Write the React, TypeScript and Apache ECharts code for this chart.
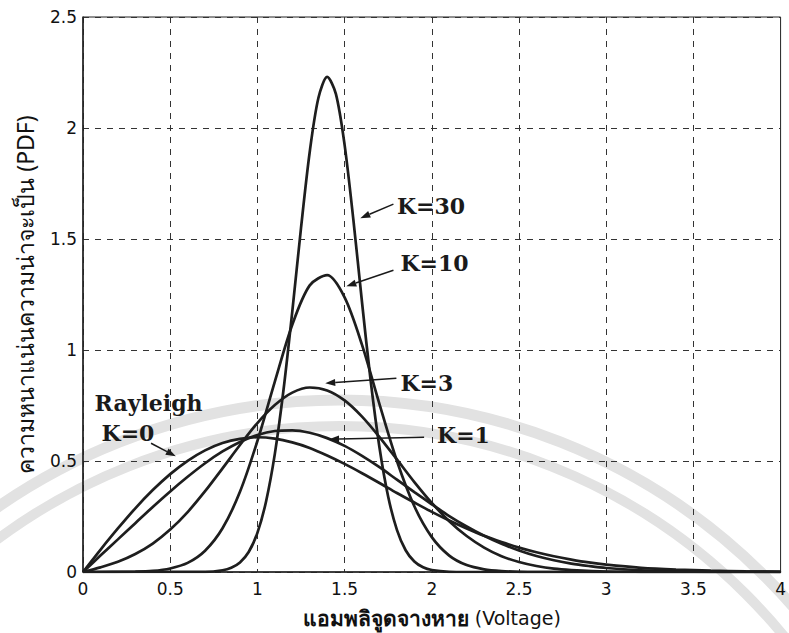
import React, { useEffect, useRef } from "react";
import * as echarts from "echarts";

// ---- data ----
const xK0 = [0, 0.1, 0.2, 0.3, 0.4, 0.5, 0.6, 0.7, 0.8, 0.9, 1.0, 1.1, 1.2, 1.3, 1.4, 1.5, 1.6, 1.7, 1.8, 1.9, 2.0, 2.1, 2.2, 2.3, 2.4, 2.5, 2.6, 2.7, 2.8, 2.9, 3.0, 3.2, 3.4, 3.6, 3.8, 4.0];
const yK0 = [0, 0.1, 0.196, 0.287, 0.369, 0.441, 0.501, 0.548, 0.581, 0.6, 0.607, 0.601, 0.584, 0.559, 0.525, 0.487, 0.445, 0.401, 0.356, 0.313, 0.271, 0.232, 0.196, 0.163, 0.135, 0.11, 0.089, 0.071, 0.056, 0.043, 0.033, 0.019, 0.011, 0.006, 0.003, 0.001];

const xK1 = [0, 0.1, 0.2, 0.3, 0.4, 0.5, 0.6, 0.7, 0.8, 0.9, 1.0, 1.1, 1.2, 1.3, 1.4, 1.5, 1.6, 1.7, 1.8, 1.9, 2.0, 2.1, 2.2, 2.3, 2.4, 2.5, 2.6, 2.7, 2.8, 2.9, 3.0, 3.2, 3.4, 3.6, 4.0];
const yK1 = [0, 0.074, 0.147, 0.22, 0.293, 0.363, 0.429, 0.49, 0.543, 0.586, 0.617, 0.635, 0.638, 0.627, 0.603, 0.568, 0.523, 0.472, 0.416, 0.36, 0.305, 0.252, 0.205, 0.163, 0.127, 0.097, 0.072, 0.053, 0.038, 0.027, 0.018, 0.008, 0.003, 0.001, 0];

const xK3 = [0, 0.1, 0.2, 0.3, 0.4, 0.5, 0.6, 0.7, 0.8, 0.9, 1.0, 1.1, 1.2, 1.3, 1.4, 1.5, 1.6, 1.7, 1.8, 1.9, 2.0, 2.1, 2.2, 2.3, 2.4, 2.5, 2.6, 2.7, 2.8, 3.0, 3.2, 4.0];
const yK3 = [0, 0.021, 0.046, 0.081, 0.128, 0.191, 0.27, 0.364, 0.467, 0.572, 0.671, 0.752, 0.808, 0.831, 0.818, 0.773, 0.7, 0.608, 0.507, 0.405, 0.311, 0.229, 0.162, 0.11, 0.071, 0.045, 0.027, 0.015, 0.009, 0.002, 0.001, 0];

const xK10 = [0, 0.3, 0.4, 0.5, 0.6, 0.7, 0.8, 0.9, 1.0, 1.1, 1.2, 1.3, 1.4, 1.5, 1.6, 1.7, 1.8, 1.9, 2.0, 2.1, 2.2, 2.3, 2.4, 2.5, 2.6, 3.0, 4.0];
const yK10 = [0, 0.002, 0.005, 0.016, 0.041, 0.096, 0.197, 0.361, 0.59, 0.858, 1.114, 1.291, 1.337, 1.237, 1.023, 0.756, 0.5, 0.296, 0.157, 0.074, 0.031, 0.012, 0.004, 0.001, 0, 0, 0];

const xK30 = [0, 0.7, 0.8, 0.85, 0.9, 0.95, 1.0, 1.05, 1.1, 1.15, 1.2, 1.25, 1.3, 1.35, 1.4, 1.45, 1.5, 1.55, 1.6, 1.65, 1.7, 1.75, 1.8, 1.85, 1.9, 1.95, 2.0, 2.1, 2.2, 4.0];
const yK30 = [0, 0.001, 0.008, 0.019, 0.043, 0.09, 0.176, 0.319, 0.532, 0.822, 1.173, 1.549, 1.892, 2.136, 2.23, 2.154, 1.924, 1.589, 1.214, 0.858, 0.561, 0.339, 0.19, 0.098, 0.047, 0.021, 0.009, 0.001, 0, 0];

const xTickValues = [0, 0.5, 1, 1.5, 2, 2.5, 3, 3.5, 4];
const yTickValues = [0, 0.5, 1, 1.5, 2, 2.5];

// annotation labels: text, text anchor [x, y], arrow tail, arrow head (data coords)
const labelTexts = ["K=30", "K=10", "K=3", "K=1", "K=0"];
const labelAnchors = [[1.8, 1.65], [1.82, 1.393], [1.82, 0.852], [2.03, 0.616], [0.258, 0.627]];
const arrowTails = [[1.78, 1.657], [1.78, 1.359], [1.797, 0.873], [1.956, 0.607], [0.39, 0.58]];
const arrowHeads = [[1.59, 1.594], [1.51, 1.287], [1.389, 0.85], [1.411, 0.598], [0.532, 0.521]];
const rayleighText = "Rayleigh";
const rayleighAnchor = [0.376, 0.76];

const pairs = (xs: number[], ys: number[]) => xs.map((x, i) => [x, ys[i]]);

export default function App() {
  const ref = useRef<HTMLDivElement>(null);

  useEffect(() => {
    if (!ref.current) return;
    const chart = echarts.init(ref.current, undefined, { renderer: "svg" });
    const lineColor = "#1e1e1e";
    const mkSeries = (name: string, xs: number[], ys: number[]) => ({
      name,
      type: "line",
      data: pairs(xs, ys),
      showSymbol: false,
      symbol: "none",
      smooth: 0.3,
      lineStyle: { color: lineColor, width: 2.7 },
      z: 5,
    });

    chart.setOption({
      animation: false,
      backgroundColor: "#ffffff",
      grid: {
        left: 83,
        right: 1,
        top: 17,
        bottom: 61,
        show: true,
        borderColor: "#222",
        borderWidth: 1,
        backgroundColor: "transparent",
      },
      xAxis: {
        type: "value",
        min: 0,
        max: 4,
        interval: 0.5,
        name: "{b|แอมพลิจูดจางหาย} (Voltage)",
        nameLocation: "middle",
        nameGap: 35,
        nameTextStyle: {
          fontFamily: "DejaVu Sans, Noto Sans, sans-serif",
          fontSize: 19,
          color: "#111",
          rich: {
            b: { fontFamily: "Noto Sans, sans-serif", fontSize: 21, fontWeight: "bold", color: "#111" },
          },
        },
        axisLine: { show: true, lineStyle: { color: "#222", width: 1.5 } },
        axisTick: { show: false },
        axisLabel: {
          fontFamily: "DejaVu Sans, sans-serif",
          fontSize: 17,
          color: "#111",
          margin: 8,
          formatter: (v: number) => (xTickValues.includes(v) ? String(v) : ""),
        },
        splitLine: { show: true, lineStyle: { color: "#333", type: [6, 6], width: 1 } },
      },
      yAxis: {
        type: "value",
        min: 0,
        max: 2.5,
        interval: 0.5,
        name: "ความหนาแน่นความน่าจะเป็น (PDF)",
        nameLocation: "middle",
        nameGap: 47,
        nameTextStyle: {
          fontFamily: "Noto Sans, DejaVu Sans, sans-serif",
          fontSize: 23,
          color: "#111",
        },
        axisLine: { show: true, lineStyle: { color: "#222", width: 1.5 } },
        axisTick: { show: false },
        axisLabel: {
          fontFamily: "DejaVu Sans, sans-serif",
          fontSize: 17,
          color: "#111",
          margin: 6,
          formatter: (v: number) => (yTickValues.includes(v) ? String(v) : ""),
        },
        splitLine: { show: true, lineStyle: { color: "#333", type: [6, 6], width: 1 } },
      },
      series: [
        mkSeries("K=0", xK0, yK0),
        mkSeries("K=1", xK1, yK1),
        mkSeries("K=3", xK3, yK3),
        mkSeries("K=10", xK10, yK10),
        mkSeries("K=30", xK30, yK30),
      ],
    });

    const toPx = (p: number[]) => chart.convertToPixel({ gridIndex: 0 }, p) as number[];
    const textStyleBase = {
      fill: "#1a1a1a",
      font: "bold 22px 'DejaVu Serif', 'Liberation Serif', serif",
    };
    const graphics: any[] = [];

    // faint watermark arcs
    graphics.push({
      type: "arc",
      silent: true,
      z: -10,
      shape: { cx: 340, cy: 1000, r: 600, startAngle: Math.PI, endAngle: 2 * Math.PI },
      style: { stroke: "#e2e2e2", lineWidth: 11, fill: "none" },
    });
    graphics.push({
      type: "arc",
      silent: true,
      z: -10,
      shape: { cx: 340, cy: 1000, r: 574, startAngle: Math.PI, endAngle: 2 * Math.PI },
      style: { stroke: "#e2e2e2", lineWidth: 10, fill: "none" },
    });

    labelTexts.forEach((t, i) => {
      const a = toPx(labelAnchors[i]);
      const isK0 = t === "K=0";
      graphics.push({
        type: "text",
        x: a[0],
        y: a[1],
        z: 100,
        style: {
          ...textStyleBase,
          text: t,
          textAlign: isK0 ? "center" : "left",
          textVerticalAlign: "middle",
        },
      });
      const tail = toPx(arrowTails[i]);
      const head = toPx(arrowHeads[i]);
      const dx = head[0] - tail[0];
      const dy = head[1] - tail[1];
      const len = Math.sqrt(dx * dx + dy * dy);
      const ux = dx / len;
      const uy = dy / len;
      const hl = 10;
      const hw = 3.5;
      const bx = head[0] - ux * hl;
      const by = head[1] - uy * hl;
      graphics.push({
        type: "line",
        z: 100,
        shape: { x1: tail[0], y1: tail[1], x2: bx, y2: by },
        style: { stroke: "#1a1a1a", lineWidth: 1.5 },
      });
      graphics.push({
        type: "polygon",
        z: 100,
        shape: {
          points: [
            [head[0], head[1]],
            [bx - uy * hw, by + ux * hw],
            [bx + uy * hw, by - ux * hw],
          ],
        },
        style: { fill: "#1a1a1a" },
      });
    });

    const r = toPx(rayleighAnchor);
    graphics.push({
      type: "text",
      x: r[0],
      y: r[1],
      z: 100,
      style: { ...textStyleBase, text: rayleighText, textAlign: "center", textVerticalAlign: "middle" },
    });

    chart.setOption({ graphic: graphics });

    return () => chart.dispose();
  }, []);

  return <div ref={ref} style={{ width: 789, height: 633, position: "absolute", left: 0, top: 0 }} />;
}
